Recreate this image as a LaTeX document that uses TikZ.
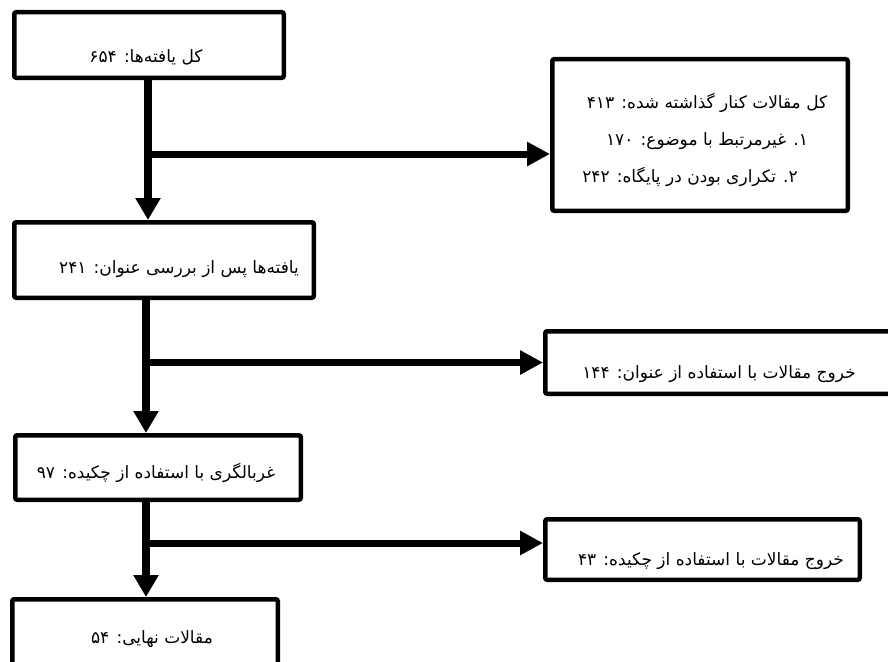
\documentclass[tikz,border=0pt]{standalone}
\usepackage{fontspec}
\newfontfamily\arabicfont[Script=Arabic]{DejaVu Sans}
\TeXXeTstate=1
\usetikzlibrary{arrows.meta}
\tikzset{
  boxnode/.style={draw=black, line width=4.5pt, rounded corners=2pt, fill=white, inner sep=0pt},
  ptext/.style={font=\arabicfont\fontsize{17}{20}\selectfont, anchor=base, inner sep=0pt},
  vflow/.style={line width=8pt, -{Triangle[length=22pt,width=24pt]}},
  hflow/.style={line width=7pt, -{Triangle[length=23pt,width=23pt]}}
}
\begin{document}
\begin{tikzpicture}[x=1pt,y=-1pt]
\useasboundingbox (0,0) rectangle (888,661);
\clip (0,0) rectangle (888,661);
\fill[white] (0,0) rectangle (888,661);
% boxes (outer size minus line width)
\node[boxnode, minimum width=269.5pt, minimum height=65.5pt] (b1) at (149,45) {};
\node[boxnode, minimum width=299.5pt, minimum height=75.5pt] (b2) at (164,260) {};
\node[boxnode, minimum width=285.5pt, minimum height=64.5pt] (b3) at (158,467.5) {};
\node[boxnode, minimum width=265.5pt, minimum height=78.5pt] (b4) at (145,638.5) {};
\node[boxnode, minimum width=295.5pt, minimum height=151.5pt] (e1) at (700,135) {};
\node[boxnode, minimum width=362.5pt, minimum height=62.5pt] (e2) at (726.5,362.5) {};
\node[boxnode, minimum width=314.5pt, minimum height=60.5pt] (e3) at (702.5,549.5) {};
% texts
\node[ptext] (t1) at (146,63) {\beginR کل یافته‌ها: ۶۵۴\endR};
\node[ptext] (t2) at (179,273) {\beginR یافته‌ها پس از بررسی عنوان: ۲۴۱\endR};
\node[ptext] (t3) at (156,478) {\beginR غربالگری با استفاده از چکیده: ۹۷\endR};
\node[ptext] (t4) at (152,643) {\beginR مقالات نهایی: ۵۴\endR};
\node[ptext] (u1) at (707,108) {\beginR کل مقالات کنار گذاشته شده: ۴۱۳\endR};
\node[ptext] (u2) at (707,145) {\beginR ۱. غیرمرتبط با موضوع: ۱۷۰\endR};
\node[ptext] (u3) at (690,182) {\beginR ۲. تکراری بودن در پایگاه: ۲۴۲\endR};
\node[ptext] (u4) at (719,378) {\beginR خروج مقالات با استفاده از عنوان: ۱۴۴\endR};
\node[ptext] (u5) at (711,565) {\beginR خروج مقالات با استفاده از چکیده: ۴۳\endR};
% junctions
\coordinate (j1) at (148,154);
\coordinate (j2) at (146,362.5);
\coordinate (j3) at (146,543);
% connectors
\draw[vflow] (b1.south -| j1) -- (b2.north -| j1);
\draw[vflow] (b2.south -| j2) -- (b3.north -| j2);
\draw[vflow] (b3.south -| j3) -- (b4.north -| j3);
\draw[hflow] (j1) -- (j1 -| e1.west);
\draw[hflow] (j2) -- (e2.west);
\draw[hflow] (j3) -- (j3 -| e3.west);
\end{tikzpicture}
\end{document}
